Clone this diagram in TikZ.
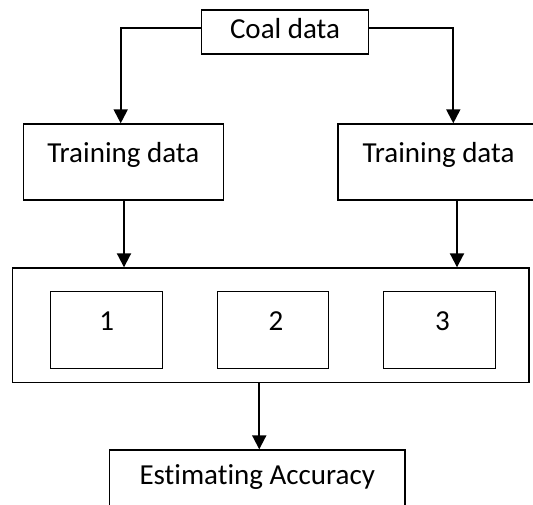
\documentclass[tikz,border=0pt]{standalone}
\usepackage{fontspec}
\setmainfont{Carlito}[Ligatures={NoCommon}]
\usetikzlibrary{arrows.meta}
\begin{document}
\begin{tikzpicture}[x=1pt,y=-1pt,
  box/.style={draw=black, line width=1.3pt, inner sep=0pt, anchor=north,
    font=\fontsize{29}{34}\selectfont},
  arr/.style={line width=2pt, -{Triangle[length=14pt,width=14pt]}}]
\useasboundingbox (0,0) rectangle (533,504);
\clip (0,0) rectangle (533,504);
% Coal data
\node[box, minimum width=166.6pt, text height=29pt, text depth=15pt] (coal) at (285,9.3) {Coal data};
% Training data boxes
\node[box, minimum width=200pt, text height=38.7pt, text depth=37.3pt] (tl) at (123.3,123.3) {Training data};
\node[box, minimum width=201pt, text height=38.7pt, text depth=37.3pt] (tr) at (438.5,123.3) {Training data};
% big box
\node[box, minimum width=516.3pt, minimum height=114.4pt] (big) at (270.85,267.3) {};
% inner boxes
\node[box, minimum width=112pt, text height=39pt, text depth=37.7pt] (b1) at (106.7,291) {1};
\node[box, minimum width=111.3pt, text height=39pt, text depth=37.7pt] (b2) at (273,291) {\hspace*{6pt}2};
\node[box, minimum width=111.8pt, text height=39pt, text depth=37.7pt] (b3) at (439.4,291) {\hspace*{6pt}3};
% estimating
\node[box, minimum width=295.5pt, text height=34.7pt, text depth=40pt] (est) at (257.25,449.3) {Estimating Accuracy};
% connectors
\draw[arr] ([yshift=4pt]coal.west) -| ([xshift=-2.6pt]tl.north);
\draw[arr] ([yshift=4pt]coal.east) -| ([xshift=14.8pt]tr.north);
\draw[arr] ([xshift=0.7pt]tl.south) -- ([xshift=0.7pt]tl.south |- big.north);
\draw[arr] ([xshift=18.5pt]tr.south) -- ([xshift=18.5pt]tr.south |- big.north);
\draw[arr] ([xshift=2pt]est.north |- big.south) -- ([xshift=2pt]est.north);
\end{tikzpicture}
\end{document}
